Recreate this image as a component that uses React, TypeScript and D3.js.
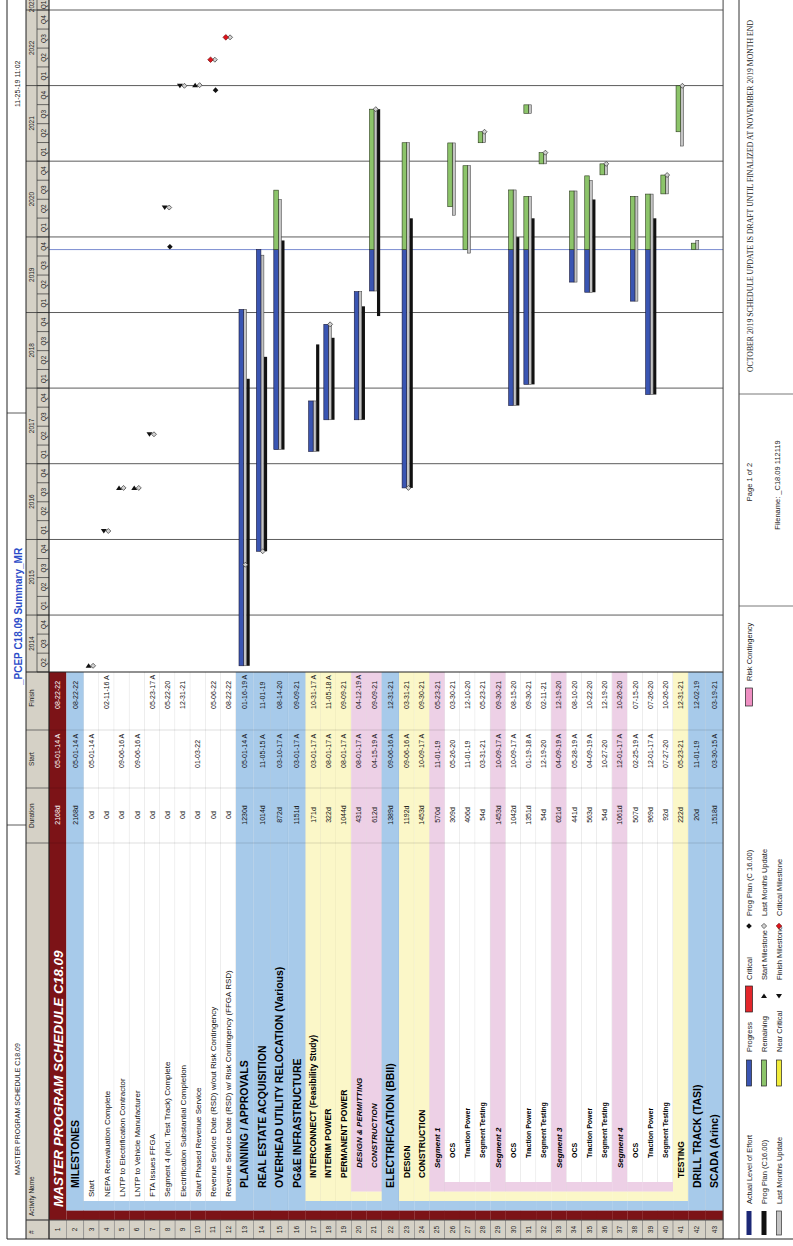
import React from 'react';
import * as d3 from 'd3';

// ---------------- data ----------------
const rowNames = [
  'MASTER PROGRAM SCHEDULE C18.09', 'MILESTONES', 'Start', 'NEPA Reevaluation Complete',
  'LNTP to Electrification Contractor', 'LNTP to Vehicle Manufacturer', 'FTA Issues FFGA',
  'Segment 4 (incl. Test Track) Complete', 'Electrification Substantial Completion',
  'Start Phased Revenue Service', 'Revenue Service Date (RSD) w/out Risk Contingency',
  'Revenue Service Date (RSD) w/ Risk Contingency (FFGA RSD)', 'PLANNING / APPROVALS',
  'REAL ESTATE ACQUISITION', 'OVERHEAD UTILITY RELOCATION (Various)', 'PG&E INFRASTRUCTURE',
  'INTERCONNECT (Feasibility Study)', 'INTERIM POWER', 'PERMANENT POWER', 'DESIGN & PERMITTING',
  'CONSTRUCTION', 'ELECTRIFICATION (BBII)', 'DESIGN', 'CONSTRUCTION', 'Segment 1', 'OCS',
  'Traction Power', 'Segment Testing', 'Segment 2', 'OCS', 'Traction Power', 'Segment Testing',
  'Segment 3', 'OCS', 'Traction Power', 'Segment Testing', 'Segment 4', 'OCS', 'Traction Power',
  'Segment Testing', 'TESTING', 'DRILL TRACK (TASI)', 'SCADA (Arinc)',
];
const rowLevels = [0, 1, 2, 2, 2, 2, 2, 2, 2, 2, 2, 2, 1, 1, 1, 1, 2, 2, 2, 3, 3, 1, 2, 2, 3, 4, 4, 4, 3, 4, 4, 4, 3, 4, 4, 4, 3, 4, 4, 4, 2, 1, 1];
const rowIsGroup = [1, 1, 0, 0, 0, 0, 0, 0, 0, 0, 0, 0, 1, 1, 1, 1, 1, 1, 1, 1, 1, 1, 1, 1, 1, 0, 0, 0, 1, 0, 0, 0, 1, 0, 0, 0, 1, 0, 0, 0, 1, 1, 1];
const durations = ['2168d', '2168d', '0d', '0d', '0d', '0d', '0d', '0d', '0d', '0d', '0d', '0d', '1230d', '1014d', '872d', '1151d', '171d', '322d', '1044d', '431d', '612d', '1389d', '1192d', '1453d', '570d', '309d', '406d', '54d', '1453d', '1042d', '1351d', '54d', '621d', '441d', '563d', '54d', '1061d', '507d', '969d', '92d', '222d', '20d', '1518d'];
const starts = ['05-01-14 A', '05-01-14 A', '05-01-14 A', '', '09-06-16 A', '09-06-16 A', '', '', '', '01-03-22', '', '', '05-01-14 A', '11-05-15 A', '03-10-17 A', '03-01-17 A', '03-01-17 A', '08-01-17 A', '08-01-17 A', '08-01-17 A', '04-15-19 A', '09-06-16 A', '09-06-16 A', '10-09-17 A', '11-01-19', '05-26-20', '11-01-19', '03-31-21', '10-09-17 A', '10-09-17 A', '01-19-18 A', '12-19-20', '04-09-19 A', '05-28-19 A', '04-09-19 A', '10-27-20', '12-01-17 A', '02-25-19 A', '12-01-17 A', '07-27-20', '05-23-21', '11-01-19', '03-30-15 A'];
const finishes = ['08-22-22', '08-22-22', '', '02-11-16 A', '', '', '05-23-17 A', '05-22-20', '12-31-21', '', '05-06-22', '08-22-22', '01-16-19 A', '11-01-19', '08-14-20', '09-09-21', '10-31-17 A', '11-05-18 A', '09-09-21', '04-12-19 A', '09-09-21', '12-31-21', '03-31-21', '09-30-21', '05-23-21', '03-30-21', '12-10-20', '05-23-21', '09-30-21', '08-15-20', '09-30-21', '02-11-21', '12-19-20', '08-10-20', '10-22-20', '12-19-20', '10-26-20', '07-15-20', '07-26-20', '10-26-20', '12-31-21', '12-02-19', '03-19-21'];

const timeStart = '2014-04-01';
const timeEnd = '2023-01-01';
const headerEnd = '2023-04-01';
const dataDate = '2019-11-01';
const quarterNames = ['Q1', 'Q2', 'Q3', 'Q4'];

// [row, start, finish]
const currentBars: [number, string, string][] = [
  [13, '2014-05-01', '2019-01-16'], [14, '2015-11-05', '2019-11-01'], [15, '2017-03-10', '2020-08-14'],
  [17, '2017-03-01', '2017-10-31'], [18, '2017-08-01', '2018-11-05'], [20, '2017-08-01', '2019-04-12'],
  [21, '2019-04-15', '2021-09-09'], [23, '2016-09-06', '2021-03-31'], [26, '2020-05-26', '2021-03-30'],
  [27, '2019-11-01', '2020-12-10'], [28, '2021-03-31', '2021-05-23'], [30, '2017-10-09', '2020-08-15'],
  [31, '2018-01-19', '2020-07-15'], [31, '2021-08-20', '2021-09-30'], [32, '2020-12-19', '2021-02-11'],
  [34, '2019-05-28', '2020-08-10'], [35, '2019-04-09', '2020-10-22'], [36, '2020-10-27', '2020-12-19'],
  [38, '2019-02-25', '2020-07-15'], [39, '2017-12-01', '2020-07-26'], [40, '2020-07-27', '2020-10-26'],
  [41, '2021-05-23', '2021-12-31'], [42, '2019-11-01', '2019-12-02'],
];
const lastMonthBars: [number, string, string][] = [
  [13, '2014-05-01', '2019-01-16'], [14, '2015-11-05', '2019-10-05'], [15, '2017-03-10', '2020-06-30'],
  [17, '2017-03-01', '2017-10-31'], [18, '2017-08-01', '2018-11-05'], [20, '2017-08-01', '2019-04-12'],
  [21, '2019-04-15', '2021-09-09'], [23, '2016-09-06', '2021-03-31'], [26, '2020-04-15', '2021-03-30'],
  [27, '2019-10-15', '2020-12-10'], [28, '2021-03-31', '2021-05-23'], [30, '2017-10-09', '2020-08-15'],
  [31, '2018-01-19', '2020-07-15'], [31, '2021-08-20', '2021-09-30'], [32, '2020-12-19', '2021-02-11'],
  [34, '2019-05-28', '2020-08-10'], [35, '2019-04-09', '2020-09-30'], [36, '2020-10-27', '2020-12-19'],
  [38, '2019-02-25', '2020-07-15'], [39, '2017-12-01', '2020-07-26'], [40, '2020-07-27', '2020-10-26'],
  [41, '2021-03-15', '2021-12-31'], [42, '2019-11-01', '2019-12-15'],
];
const progPlanBars: [number, string, string][] = [
  [13, '2014-05-01', '2018-02-15'], [14, '2015-11-05', '2018-06-01'], [15, '2017-03-10', '2019-12-15'],
  [17, '2017-03-01', '2018-07-31'], [18, '2017-08-01', '2018-09-01'], [20, '2017-08-01', '2019-01-31'],
  [21, '2018-12-15', '2021-09-09'], [23, '2016-09-06', '2020-03-31'], [30, '2017-10-09', '2019-12-31'],
  [31, '2018-01-19', '2020-03-31'], [35, '2019-04-09', '2020-06-30'], [39, '2017-12-01', '2020-03-31'],
];
// [row, date]
const startMilestones: [number, string][] = [[3, '2014-05-01'], [5, '2016-09-06'], [6, '2016-09-06'], [10, '2022-01-03']];
const finishMilestones: [number, string][] = [[4, '2016-02-11'], [7, '2017-05-23'], [8, '2020-05-22'], [9, '2021-12-31']];
const criticalMilestones: [number, string][] = [[11, '2022-05-06'], [12, '2022-08-22']];
const lastMonthMarks: [number, string][] = [
  [3, '2014-05-01'], [4, '2016-02-11'], [5, '2016-09-06'], [6, '2016-09-06'], [7, '2017-05-23'],
  [8, '2020-05-22'], [9, '2021-12-31'], [10, '2022-01-03'], [11, '2022-05-06'], [12, '2022-08-22'],
  [13, '2015-09-01'], [14, '2015-11-05'], [18, '2018-11-05'], [21, '2021-09-09'], [23, '2016-09-06'],
  [28, '2021-05-23'], [32, '2021-02-11'], [36, '2020-12-19'], [40, '2020-10-26'], [41, '2021-12-31'],
];
const progPlanMarks: [number, string][] = [[8, '2019-11-15'], [11, '2021-12-10']];

const legendCol1 = ['Actual Level of Effort', 'Prog Plan (C16.00)', 'Last Months Update'];
const legendCol2 = ['Progress', 'Remaining', 'Near Critical'];
const legendCol3 = ['Critical', 'Start Milestone', 'Finish Milestone'];
const legendCol4 = ['Prog Plan (C 16.00)', 'Last Months Update', 'Critical Milestone'];
const legendCol5 = ['Risk Contingency'];

const pageTitle = 'MASTER PROGRAM SCHEDULE C18.09';
const layoutTitle = '_PCEP C18.09 Summary_MR';
const printDate = '11-25-19 11:02';
const pageText = 'Page 1 of 2';
const fileText = 'Filename: _C18.09 112119';
const draftNote = 'OCTOBER 2019 SCHEDULE UPDATE IS DRAFT UNTIL FINALIZED AT NOVEMBER 2019 MONTH END';

// ---------------- styles ----------------
const SANS = '"Liberation Sans", Arial, sans-serif';
const SERIF = '"Liberation Serif", "Times New Roman", serif';
const levelFill = ['#7c1317', '#a7caea', '#fbf7c8', '#edd0e6'];
const HEAD = '#d5d1c6';
const BLUE = '#3a55b2';
const GREEN = '#8cc46a';
const GRAY = '#c4c4c4';
const NAVY = '#1c2876';
const RED = '#e3262b';
const YELLOW = '#f1ec3a';
const PINK = '#ee8fc2';

export default function App() {
  const W = 1246;
  const parse = d3.utcParse('%Y-%m-%d');
  const P = (s: string) => parse(s) as Date;

  // horizontal (landscape) column edges
  const cFrame = 7, cNum = 26, cDur = 403, cStart = 458, cFin = 516, cGantt = 574;
  const yTitle = 7, yHead = 26, yHeadMid = 37, yBody = 49;
  const ind = (l: number) => cNum + l * 9.5;

  const x = d3.scaleUtc().domain([P(timeStart), P(timeEnd)]).range([cGantt, 1236]);

  const heights = rowLevels.map((l) => (l <= 1 ? 17.4 : 15.22));
  const tops: number[] = [];
  heights.reduce((acc, h) => { tops.push(acc); return acc + h; }, yBody);
  const yBottom = tops[tops.length - 1] + heights[heights.length - 1];
  const rt = (r: number) => tops[r - 1];

  const quarters = d3.utcMonth.every(3)!.range(P(timeStart), P(headerEnd));
  const years = d3.utcYear.range(P('2014-01-01'), P('2024-01-01'));
  const dd = P(dataDate);

  const diamond = (cx: number, cy: number, r: number) => `M${cx},${cy - r}L${cx + r},${cy}L${cx},${cy + r}L${cx - r},${cy}Z`;
  const triR = (cx: number, cy: number) => `M${cx - 2},${cy - 3}L${cx + 2.5},${cy}L${cx - 2},${cy + 3}Z`;
  const triL = (cx: number, cy: number) => `M${cx + 2},${cy - 3}L${cx - 2.5},${cy}L${cx + 2},${cy + 3}Z`;

  const nameStyle = (i: number) => {
    const l = rowLevels[i];
    const g = rowIsGroup[i];
    if (l === 0) return { x: 39, size: 13.5, weight: 700, italic: true, fill: '#fff' };
    if (l === 1) return { x: 58, size: 10.5, weight: 700, italic: false, fill: '#000' };
    if (l === 2 && g) return { x: 68, size: 8.5, weight: 700, italic: false, fill: '#000' };
    if (l === 3) return { x: 78, size: 8, weight: 700, italic: true, fill: '#000' };
    if (l === 4) return { x: 88, size: 7, weight: 700, italic: false, fill: '#000' };
    return { x: 49, size: 8, weight: 400, italic: false, fill: '#111' };
  };

  const legendY = [749, 764, 779];
  const visMid = (a: number, b: number) => (Math.max(a, cGantt) + Math.min(b, W)) / 2;

  return (
    <svg width={793} height={1246} style={{ position: 'absolute', left: 0, top: 0, display: 'block', background: '#fff' }}>
      <g transform={`translate(0,${W}) rotate(-90)`} fontFamily={SANS}>
        <rect x={0} y={0} width={W} height={793} fill="#fff" />

        {/* title row */}
        <text x={71} y={20} fontSize={7} fill="#222">{pageTitle}</text>
        <text x={561} y={21.5} fontSize={10} fontWeight={700} fill="#2c4cc8">{layoutTitle}</text>
        <text x={1139} y={20} fontSize={7} fill="#222">{printDate}</text>
        <line x1={421} x2={421} y1={yTitle} y2={yHead} stroke="#333" strokeWidth={0.8} />
        <line x1={833} x2={833} y1={yTitle} y2={yHead} stroke="#333" strokeWidth={0.8} />

        {/* header */}
        <rect x={cFrame} y={yHead} width={W - cFrame} height={yBody - yHead} fill={HEAD} />
        <text x={12} y={34} fontSize={6.5} fill="#222">#</text>
        <text x={30} y={34} fontSize={6.5} fill="#222">Activity Name</text>
        <text x={418} y={34} fontSize={6.5} fill="#222">Duration</text>
        <text x={487} y={34} fontSize={6.5} fill="#222" textAnchor="middle">Start</text>
        <text x={548} y={34} fontSize={6.5} fill="#222" textAnchor="middle">Finish</text>
        {[cNum, cDur, cStart, cFin].map((c) => (
          <line key={'hc' + c} x1={c} x2={c} y1={yHead} y2={yBody} stroke="#555" strokeWidth={0.8} />
        ))}
        {/* time scale header */}
        {years.map((yd, i) => {
          const xe = x(d3.utcYear.offset(yd, 1));
          return (
            <g key={'y' + i}>
              <line x1={xe} x2={xe} y1={yHead} y2={yBody} stroke="#333" strokeWidth={0.8} />
              <text x={visMid(x(yd), xe)} y={34} fontSize={6.5} textAnchor="middle" fill="#222">{yd.getUTCFullYear()}</text>
            </g>
          );
        })}
        {quarters.map((q, i) => {
          const x0 = x(q);
          const x1 = x(d3.utcMonth.offset(q, 3));
          return (
            <g key={'q' + i}>
              <line x1={x0} x2={x0} y1={yHeadMid} y2={yBody} stroke="#333" strokeWidth={0.7} />
              <text x={visMid(x0, x1)} y={45.5} fontSize={6.5} textAnchor="middle" fill="#222">{quarterNames[q.getUTCMonth() / 3]}</text>
            </g>
          );
        })}
        <line x1={cGantt} x2={W} y1={yHeadMid} y2={yHeadMid} stroke="#333" strokeWidth={0.7} />

        {/* table rows */}
        {rowNames.map((name, i) => {
          const top = tops[i];
          const h = heights[i];
          const l = rowLevels[i];
          const g = rowIsGroup[i];
          const fill = g ? levelFill[l] : '#fff';
          const ns = nameStyle(i);
          const cy = top + h / 2;
          const dataFill = l === 0 ? '#fff' : '#111';
          return (
            <g key={'r' + i}>
              <rect x={cFrame} y={top} width={cNum - cFrame} height={h} fill={HEAD} stroke="#777" strokeWidth={0.5} />
              <text x={(cFrame + cNum) / 2} y={cy + 2.3} fontSize={6.5} textAnchor="middle" fill="#222">{i + 1}</text>
              {d3.range(l).map((k) => (
                <rect key={k} x={ind(k)} y={top} width={ind(k + 1) - ind(k) + 0.2} height={h + 0.2} fill={levelFill[k]} />
              ))}
              <rect x={ind(l)} y={top} width={cGantt - ind(l)} height={h} fill={fill} />
              <line x1={ind(l)} x2={cGantt} y1={top + h} y2={top + h} stroke={g ? 'rgba(0,0,0,0.12)' : '#c9c9c9'} strokeWidth={0.6} />
              <text x={ns.x} y={cy + ns.size * 0.36} fontSize={ns.size} fontWeight={ns.weight} fontStyle={ns.italic ? 'italic' : 'normal'} fill={ns.fill}>{name}</text>
              <text x={431} y={cy + 2.5} fontSize={7} textAnchor="middle" fill={dataFill}>{durations[i]}</text>
              <text x={478} y={cy + 2.5} fontSize={7} fill={dataFill}>{starts[i]}</text>
              <text x={537} y={cy + 2.5} fontSize={7} fill={dataFill}>{finishes[i]}</text>
            </g>
          );
        })}
        {[cDur, cStart, cFin].map((c) => (
          <line key={'bc' + c} x1={c} x2={c} y1={yBody} y2={yBottom} stroke="rgba(0,0,0,0.18)" strokeWidth={0.7} />
        ))}

        {/* gantt grid */}
        {years.filter((yd) => x(yd) > cGantt).map((yd, i) => (
          <line key={'gl' + i} x1={x(yd)} x2={x(yd)} y1={yBody} y2={yBottom} stroke="#4a4a4a" strokeWidth={0.9} />
        ))}
        <line x1={x(dd)} x2={x(dd)} y1={yBody} y2={yBottom} stroke="#6c7fcc" strokeWidth={0.9} />

        {/* bars */}
        {progPlanBars.map(([r, s, f], i) => (
          <rect key={'pb' + i} x={x(P(s))} y={rt(r) + 10.5} width={x(P(f)) - x(P(s))} height={3.2} fill="#111" />
        ))}
        {lastMonthBars.map(([r, s, f], i) => (
          <rect key={'lb' + i} x={x(P(s))} y={rt(r) + 7.5} width={x(P(f)) - x(P(s))} height={3} fill={GRAY} stroke="#333" strokeWidth={0.5} />
        ))}
        {currentBars.map(([r, s, f], i) => {
          const s0 = P(s), f0 = P(f);
          const parts: JSX.Element[] = [];
          if (s0 < dd) {
            const e = f0 < dd ? f0 : dd;
            parts.push(<rect key="a" x={x(s0)} y={rt(r) + 3} width={x(e) - x(s0)} height={4.5} fill={BLUE} stroke="#1a1a3a" strokeWidth={0.6} />);
          }
          if (f0 > dd) {
            const b = s0 > dd ? s0 : dd;
            parts.push(<rect key="b" x={x(b)} y={rt(r) + 3} width={x(f0) - x(b)} height={4.5} fill={GREEN} stroke="#2a3a1a" strokeWidth={0.6} />);
          }
          return <g key={'cb' + i}>{parts}</g>;
        })}

        {/* milestones */}
        {lastMonthMarks.map(([r, d], i) => (
          <path key={'lm' + i} d={diamond(x(P(d)), rt(r) + 9.3, 2.5)} fill="#d2d2d2" stroke="#333" strokeWidth={0.7} />
        ))}
        {progPlanMarks.map(([r, d], i) => (
          <path key={'pm' + i} d={diamond(x(P(d)), rt(r) + 10, 2.8)} fill="#111" />
        ))}
        {startMilestones.map(([r, d], i) => (
          <path key={'sm' + i} d={triR(x(P(d)), rt(r) + 4.8)} fill="#111" />
        ))}
        {finishMilestones.map(([r, d], i) => (
          <path key={'fm' + i} d={triL(x(P(d)), rt(r) + 4.8)} fill="#111" />
        ))}
        {criticalMilestones.map(([r, d], i) => (
          <path key={'cm' + i} d={diamond(x(P(d)), rt(r) + 5, 2.8)} fill="#e0141c" stroke="#5a0000" strokeWidth={0.6} />
        ))}

        {/* frame lines */}
        <line x1={cFrame} x2={W} y1={yTitle} y2={yTitle} stroke="#222" strokeWidth={1} />
        <line x1={cFrame} x2={cFrame} y1={yTitle} y2={793} stroke="#222" strokeWidth={1} />
        <line x1={cFrame} x2={W} y1={yHead} y2={yHead} stroke="#222" strokeWidth={1} />
        <line x1={cFrame} x2={W} y1={yBody} y2={yBody} stroke="#222" strokeWidth={1.2} />
        <line x1={cNum} x2={cNum} y1={yHead} y2={yBottom} stroke="#444" strokeWidth={0.8} />
        <line x1={cGantt} x2={cGantt} y1={yHead} y2={yBottom} stroke="#222" strokeWidth={1.2} />
        <line x1={cFrame} x2={W} y1={yBottom} y2={yBottom} stroke="#444" strokeWidth={1} />
        <line x1={cFrame} x2={W} y1={739} y2={739} stroke="#333" strokeWidth={1} />
        <line x1={640} x2={640} y1={739} y2={793} stroke="#555" strokeWidth={0.8} />
        <line x1={852} x2={852} y1={739} y2={793} stroke="#555" strokeWidth={0.8} />

        {/* legend */}
        <g fontSize={7.5} fill="#222">
          {legendCol1.map((t, i) => <text key={'l1' + i} x={42} y={legendY[i] + 2.7}>{t}</text>)}
          <rect x={11} y={legendY[0] - 2.5} width={24} height={5} fill={NAVY} />
          <rect x={11} y={legendY[1] - 2.5} width={24} height={5} fill="#111" />
          <rect x={11} y={legendY[2] - 2.5} width={24} height={5} fill={GRAY} stroke="#333" strokeWidth={0.7} />
          {legendCol2.map((t, i) => <text key={'l2' + i} x={194} y={legendY[i] + 2.7}>{t}</text>)}
          <rect x={160} y={legendY[0] - 2.5} width={26} height={5} fill={BLUE} stroke="#222" strokeWidth={0.7} />
          <rect x={160} y={legendY[1] - 2.5} width={26} height={5} fill={GREEN} stroke="#222" strokeWidth={0.7} />
          <rect x={160} y={legendY[2] - 2.5} width={26} height={5} fill={YELLOW} stroke="#222" strokeWidth={0.7} />
          {legendCol3.map((t, i) => <text key={'l3' + i} x={266} y={legendY[i] + 2.7}>{t}</text>)}
          <rect x={234} y={legendY[0] - 3.5} width={26} height={7} fill={RED} stroke="#222" strokeWidth={0.7} />
          <path d={triR(250, legendY[1])} fill="#111" />
          <path d={triL(250, legendY[2])} fill="#111" />
          {legendCol4.map((t, i) => <text key={'l4' + i} x={330} y={legendY[i] + 2.7}>{t}</text>)}
          <path d={diamond(320, legendY[0], 2.8)} fill="#111" />
          <path d={diamond(320, legendY[1], 2.6)} fill="#d2d2d2" stroke="#333" strokeWidth={0.7} />
          <path d={diamond(320, legendY[2], 2.8)} fill="#e0141c" stroke="#5a0000" strokeWidth={0.6} />
          <rect x={540} y={legendY[0] - 3.5} width={18} height={7} fill={PINK} stroke="#222" strokeWidth={0.7} />
          <text x={565} y={legendY[0] + 2.7}>{legendCol5[0]}</text>
        </g>
        <text x={764} y={752} fontSize={7.5} textAnchor="middle" fill="#222">{pageText}</text>
        <text x={761} y={780} fontSize={7.5} textAnchor="middle" fill="#222">{fileText}</text>
        <text x={874} y={753} fontSize={7.8} fontFamily={SERIF} fill="#222" textLength={352} lengthAdjust="spacingAndGlyphs">{draftNote}</text>
      </g>
    </svg>
  );
}
